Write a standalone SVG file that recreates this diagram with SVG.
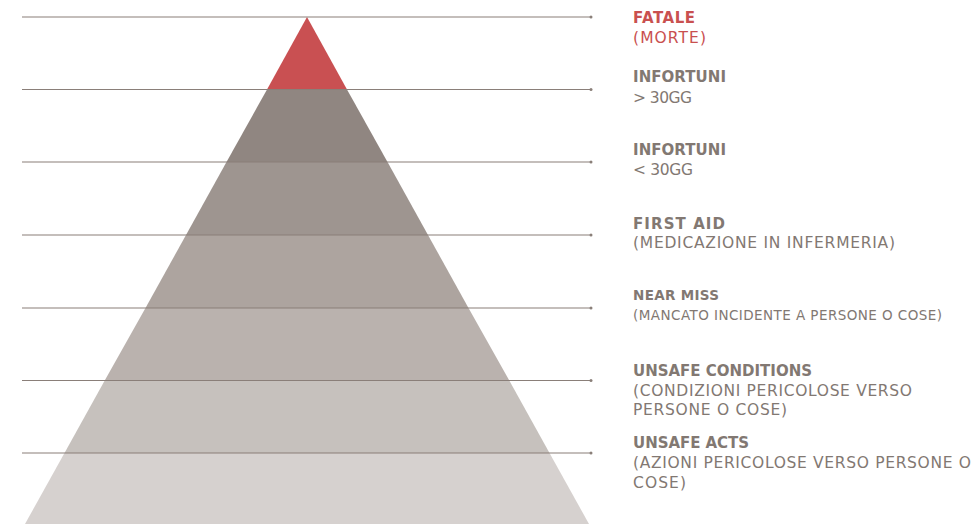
<svg xmlns="http://www.w3.org/2000/svg" width="976" height="524" viewBox="0 0 976 524">
<style>
.t{font-family:"DejaVu Sans","Liberation Sans",sans-serif;font-size:15.5px;fill:#827872}
.b{font-weight:bold;font-size:15px}
.s{font-size:13.5px}
.r{fill:#c9504f}
.ln{stroke:#8a7f79;stroke-width:1.2;fill:none}
.dot{fill:#8a7f79}
</style>
<g id="pyramid">
<polygon id="level-1" points="307,17 267,89.5 347,89.5" fill="#c95052"/>
<polygon id="level-2" points="267,89.5 347,89.5 387.5,162 226.5,162" fill="#908681"/>
<polygon id="level-3" points="226.5,162 387.5,162 428,235 186,235" fill="#9e9590"/>
<polygon id="level-4" points="186,235 428,235 468.5,308 145.5,308" fill="#ada49f"/>
<polygon id="level-5" points="145.5,308 468.5,308 509,380 105,380" fill="#bab2ae"/>
<polygon id="level-6" points="105,380 509,380 549.5,453 64.5,453" fill="#c6c1bd"/>
<polygon id="level-7" points="64.5,453 549.5,453 589,524 25,524" fill="#d6d1cf"/>
</g>
<g id="connectors">
<line class="ln" x1="22" y1="17" x2="591" y2="17"/><circle class="dot" cx="591" cy="17" r="1.5"/>
<line class="ln" x1="22" y1="89.5" x2="591" y2="89.5"/><circle class="dot" cx="591" cy="89.5" r="1.5"/>
<line class="ln" x1="22" y1="162" x2="591" y2="162"/><circle class="dot" cx="591" cy="162" r="1.5"/>
<line class="ln" x1="22" y1="235" x2="591" y2="235"/><circle class="dot" cx="591" cy="235" r="1.5"/>
<line class="ln" x1="22" y1="308" x2="591" y2="308"/><circle class="dot" cx="591" cy="308" r="1.5"/>
<line class="ln" x1="22" y1="380.5" x2="591" y2="380.5"/><circle class="dot" cx="591" cy="380.5" r="1.5"/>
<line class="ln" x1="22" y1="453" x2="591" y2="453"/><circle class="dot" cx="591" cy="453" r="1.5"/>
</g>
<g id="label-fatale"><text class="t b r" x="633" y="23" textLength="62" lengthAdjust="spacing">FATALE</text><text class="t r" x="633" y="43" textLength="73" lengthAdjust="spacing">(MORTE)</text></g>
<g id="label-infortuni-gt"><text class="t b" x="633" y="82" textLength="93" lengthAdjust="spacing">INFORTUNI</text><text class="t" x="633" y="103" textLength="59" lengthAdjust="spacing">&gt; 30GG</text></g>
<g id="label-infortuni-lt"><text class="t b" x="633" y="155" textLength="93" lengthAdjust="spacing">INFORTUNI</text><text class="t" x="633" y="175" textLength="60" lengthAdjust="spacing">&lt; 30GG</text></g>
<g id="label-first-aid"><text class="t b" x="633" y="229" textLength="92" lengthAdjust="spacing">FIRST AID</text><text class="t" x="633" y="248" textLength="262" lengthAdjust="spacing">(MEDICAZIONE IN INFERMERIA)</text></g>
<g id="label-near-miss"><text class="t b s" x="633" y="300" textLength="86" lengthAdjust="spacing">NEAR MISS</text><text class="t s" x="633" y="320" textLength="309" lengthAdjust="spacing">(MANCATO INCIDENTE A PERSONE O COSE)</text></g>
<g id="label-unsafe-conditions"><text class="t b" x="633" y="376" textLength="179" lengthAdjust="spacing">UNSAFE CONDITIONS</text><text class="t" x="633" y="396" textLength="279" lengthAdjust="spacing">(CONDIZIONI PERICOLOSE VERSO</text><text class="t" x="633" y="415" textLength="154" lengthAdjust="spacing">PERSONE O COSE)</text></g>
<g id="label-unsafe-acts"><text class="t b" x="633" y="448" textLength="116" lengthAdjust="spacing">UNSAFE ACTS</text><text class="t" x="633" y="468" textLength="338" lengthAdjust="spacing">(AZIONI PERICOLOSE VERSO PERSONE O</text><text class="t" x="633" y="488" textLength="53" lengthAdjust="spacing">COSE)</text></g>
</svg>
